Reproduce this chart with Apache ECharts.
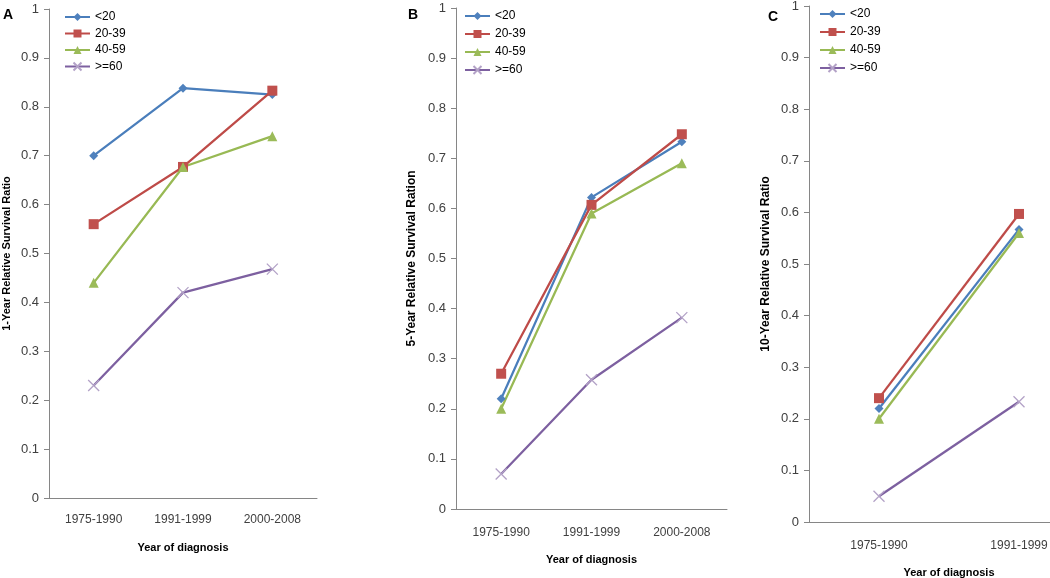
<!DOCTYPE html>
<html>
<head>
<meta charset="utf-8">
<script src="https://cdn.jsdelivr.net/npm/echarts@6/dist/echarts.min.js"></script>
<style>html,body{margin:0;padding:0;background:#fff}#c{width:1050px;height:578px}</style>
</head>
<body>
<div id="c"></div>
<script>
// ---- data ----
var groups = ['<20', '20-39', '40-59', '>=60'];
var catsAB = ['1975-1990', '1991-1999', '2000-2008'];
var catsC = ['1975-1990', '1991-1999'];
var yTicks = ['0', '0.1', '0.2', '0.3', '0.4', '0.5', '0.6', '0.7', '0.8', '0.9', '1'];

var oneYear_lt20 = [0.700, 0.838, 0.825];
var oneYear_20_39 = [0.560, 0.677, 0.833];
var oneYear_40_59 = [0.440, 0.677, 0.740];
var oneYear_ge60 = [0.230, 0.420, 0.468];

var fiveYear_lt20 = [0.220, 0.622, 0.733];
var fiveYear_20_39 = [0.270, 0.607, 0.748];
var fiveYear_40_59 = [0.200, 0.590, 0.690];
var fiveYear_ge60 = [0.070, 0.258, 0.382];

var tenYear_lt20 = [0.220, 0.567];
var tenYear_20_39 = [0.240, 0.597];
var tenYear_40_59 = [0.200, 0.560];
var tenYear_ge60 = [0.050, 0.233];

var panelLetters = ['A', 'B', 'C'];
var yNames = ['1-Year Relative Survival Ratio', '5-Year Relative Survival Ration', '10-Year Relative Survival Ratio'];
var xName = 'Year of diagnosis';

// ---- styles ----
var FONT = 'Liberation Sans';
var lineColors = ['#4A7EBB', '#BE4B48', '#98B954', '#7D60A0'];
var markColors = ['#4F81BD', '#C0504D', '#9BBB59', '#B3A2C7'];
var symbols = ['diamond', 'rect', 'triangle', 'path://M0,0L10,10M10,0L0,10'];
var symSizes = [9, 10, 10, 11];

var panelData = [
  [oneYear_lt20, oneYear_20_39, oneYear_40_59, oneYear_ge60],
  [fiveYear_lt20, fiveYear_20_39, fiveYear_40_59, fiveYear_ge60],
  [tenYear_lt20, tenYear_20_39, tenYear_40_59, tenYear_ge60]
];
var panelCats = [catsAB, catsAB, catsC];

var grids = [
  {left: 49, top: 9, width: 268, height: 489},
  {left: 456, top: 8, width: 271, height: 501},
  {left: 809, top: 6, width: 280, height: 516}
];
var letterPos = [[3, 8], [408, 8], [768, 10]];
var legendPos = [[64, 11, 4.5], [464, 10, 6], [819, 8, 6]];
var yNameGaps = [37, 38, 37];
var yNameSizes = [11, 12, 12];
var xNameGaps = [44, 45, 45];
var xLabelMargins = [16, 18, 18];

var option = {
  animation: false,
  backgroundColor: '#ffffff',
  textStyle: {fontFamily: FONT},
  title: [], grid: [], xAxis: [], yAxis: [], legend: [], series: []
};

for (var p = 0; p < 3; p++) {
  option.title.push({
    text: panelLetters[p], left: letterPos[p][0], top: letterPos[p][1], padding: 0,
    textStyle: {fontFamily: FONT, fontSize: 14, fontWeight: 'bold', color: '#000'}
  });
  option.grid.push(Object.assign({containLabel: false, outerBoundsMode: 'none'}, grids[p]));
  option.xAxis.push({
    type: 'category', gridIndex: p, data: panelCats[p], boundaryGap: true,
    name: xName, nameLocation: 'middle', nameGap: xNameGaps[p],
    nameTextStyle: {fontFamily: FONT, fontSize: 11, fontWeight: 'bold', color: '#000'},
    axisLine: {lineStyle: {color: '#868686', width: 1}},
    axisTick: {show: false},
    axisLabel: {fontFamily: FONT, fontSize: 12, color: '#404040', margin: xLabelMargins[p]},
    splitLine: {show: false}
  });
  option.yAxis.push({
    type: 'value', gridIndex: p, min: 0, max: 1, interval: 0.1,
    name: yNames[p], nameLocation: 'middle', nameGap: yNameGaps[p], nameRotate: 90,
    nameTextStyle: {fontFamily: FONT, fontSize: yNameSizes[p], fontWeight: 'bold', color: '#000'},
    axisLine: {show: true, lineStyle: {color: '#868686', width: 1}},
    axisTick: {show: true, length: 5, lineStyle: {color: '#868686'}},
    axisLabel: {fontFamily: FONT, fontSize: 13, color: '#404040', margin: 10,
      formatter: function (v) { return yTicks[Math.round(v * 10)]; }},
    splitLine: {show: false}
  });
  option.legend.push({
    orient: 'vertical', left: legendPos[p][0], top: legendPos[p][1], padding: 0,
    itemGap: legendPos[p][2], itemWidth: 25, itemHeight: 10,
    textStyle: {fontFamily: FONT, fontSize: 12, color: '#000'},
    data: groups.slice()
  });
  for (var s = 0; s < 4; s++) {
    option.series.push({
      type: 'line', name: groups[s], xAxisIndex: p, yAxisIndex: p,
      data: panelData[p][s],
      symbol: symbols[s], symbolSize: symSizes[s], showSymbol: true,
      lineStyle: {color: lineColors[s], width: 2.25},
      itemStyle: s === 3
        ? {color: markColors[s], borderColor: markColors[s], borderWidth: 1.3}
        : {color: markColors[s], borderColor: markColors[s], borderWidth: 0},
      emphasis: {disabled: true}
    });
  }
}

var chart = echarts.init(document.getElementById('c'), null, {renderer: 'canvas'});
chart.setOption(option);
</script>
</body>
</html>
